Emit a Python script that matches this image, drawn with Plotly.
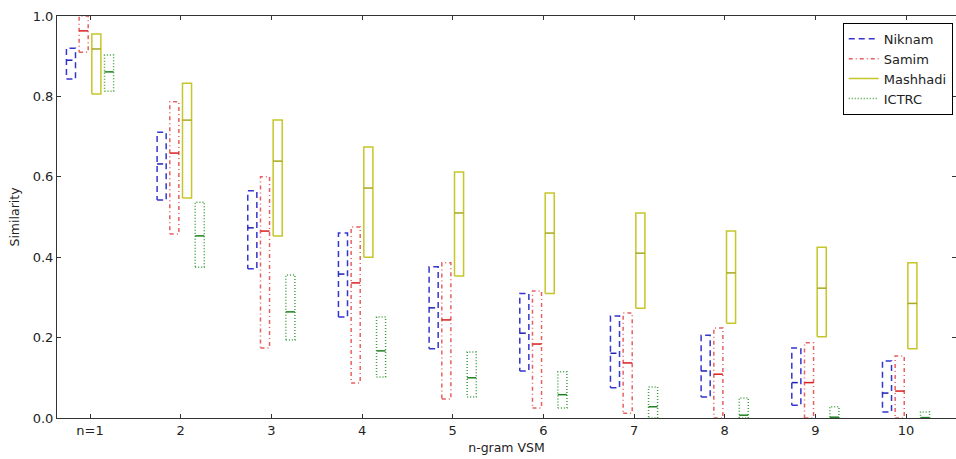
import plotly.graph_objects as go

groups = [1, 2, 3, 4, 5, 6, 7, 8, 9, 10]
tick_labels = ["n=1", "2", "3", "4", "5", "6", "7", "8", "9", "10"]
y_ticks = [0.0, 0.2, 0.4, 0.6, 0.8, 1.0]

# quartiles (q1, median, q3)
niknam_q1 = [0.843, 0.542, 0.371, 0.251, 0.172, 0.117, 0.075, 0.052, 0.032, 0.015]
niknam_med = [0.89, 0.632, 0.473, 0.358, 0.274, 0.211, 0.161, 0.117, 0.088, 0.062]
niknam_q3 = [0.92, 0.711, 0.565, 0.46, 0.376, 0.31, 0.254, 0.206, 0.174, 0.142]

samim_q1 = [0.91, 0.458, 0.174, 0.087, 0.047, 0.025, 0.012, 0.0, 0.0, 0.0]
samim_med = [0.963, 0.659, 0.465, 0.336, 0.244, 0.184, 0.137, 0.109, 0.088, 0.067]
samim_q3 = [1.0, 0.787, 0.600, 0.475, 0.386, 0.316, 0.261, 0.224, 0.187, 0.154]

mashhadi_q1 = [0.806, 0.547, 0.453, 0.40, 0.353, 0.31, 0.273, 0.236, 0.202, 0.172]
mashhadi_med = [0.918, 0.741, 0.639, 0.572, 0.51, 0.46, 0.41, 0.361, 0.323, 0.285]
mashhadi_q3 = [0.955, 0.833, 0.741, 0.674, 0.612, 0.56, 0.51, 0.465, 0.425, 0.386]

ictrc_q1 = [0.813, 0.375, 0.194, 0.102, 0.052, 0.025, 0.0, 0.0, 0.0, 0.0]
ictrc_med = [0.861, 0.453, 0.264, 0.167, 0.10, 0.058, 0.028, 0.007, 0.002, 0.001]
ictrc_q3 = [0.903, 0.537, 0.356, 0.251, 0.164, 0.115, 0.077, 0.05, 0.028, 0.015]

series = [
    ("Niknam", niknam_q1, niknam_med, niknam_q3, -0.21, "#3535cf", "#1f1fb0", "6px,4px", "6px,4px"),
    ("Samim", samim_q1, samim_med, samim_q3, -0.07, "#e86060", "#d81e1e", "4px,3px,1px,3px", "solid"),
    ("Mashhadi", mashhadi_q1, mashhadi_med, mashhadi_q3, 0.07, "#c6c62a", "#a8a820", "solid", "solid"),
    ("ICTRC", ictrc_q1, ictrc_med, ictrc_q3, 0.21, "#3fa03f", "#1f801f", "1px,2px", "solid"),
]
half_w = 0.05

fig = go.Figure()
for name, q1, med, q3, off, col, mcol, dash, mdash in series:
    xs, ys, mx, my = [], [], [], []
    for g, a, m, b in zip(groups, q1, med, q3):
        c = g + off
        xs += [c - half_w, c + half_w, c + half_w, c - half_w, c - half_w, None]
        ys += [a, a, b, b, a, None]
        mx += [c - half_w, c + half_w, None]
        my += [m, m, None]
    fig.add_trace(go.Scatter(x=xs, y=ys, mode="lines", name=name,
                             line=dict(color=col, width=1.5, dash=dash)))
    fig.add_trace(go.Scatter(x=mx, y=my, mode="lines", showlegend=False,
                             line=dict(color=mcol, width=1.5, dash=mdash)))

axis_common = dict(showline=True, linecolor="#333", linewidth=1, mirror="ticks",
                   ticks="inside", ticklen=4, tickcolor="#333", showgrid=False,
                   zeroline=False, tickfont=dict(family="DejaVu Sans", size=13, color="#222"))

fig.update_layout(
    width=956, height=459,
    margin=dict(l=57, r=0, t=16, b=41),
    paper_bgcolor="white", plot_bgcolor="white",
    font=dict(family="DejaVu Sans", size=12, color="#222"),
    xaxis=dict(range=[0.636, 10.551], tickvals=groups, ticktext=tick_labels,
               title=dict(text="n-gram VSM", font=dict(size=12.5), standoff=6), **axis_common),
    yaxis=dict(range=[0, 1.0], tickvals=y_ticks, ticktext=[f"{v:.1f}" for v in y_ticks],
               title=dict(text="Similarity", font=dict(size=12.5), standoff=10), **axis_common),
    legend=dict(x=0.874, y=0.983, xanchor="left", yanchor="top",
                bordercolor="black", borderwidth=1, bgcolor="white",
                font=dict(family="DejaVu Sans", size=13, color="#222"),
                tracegroupgap=0, itemwidth=30),
)

fig.write_html("out.html")
